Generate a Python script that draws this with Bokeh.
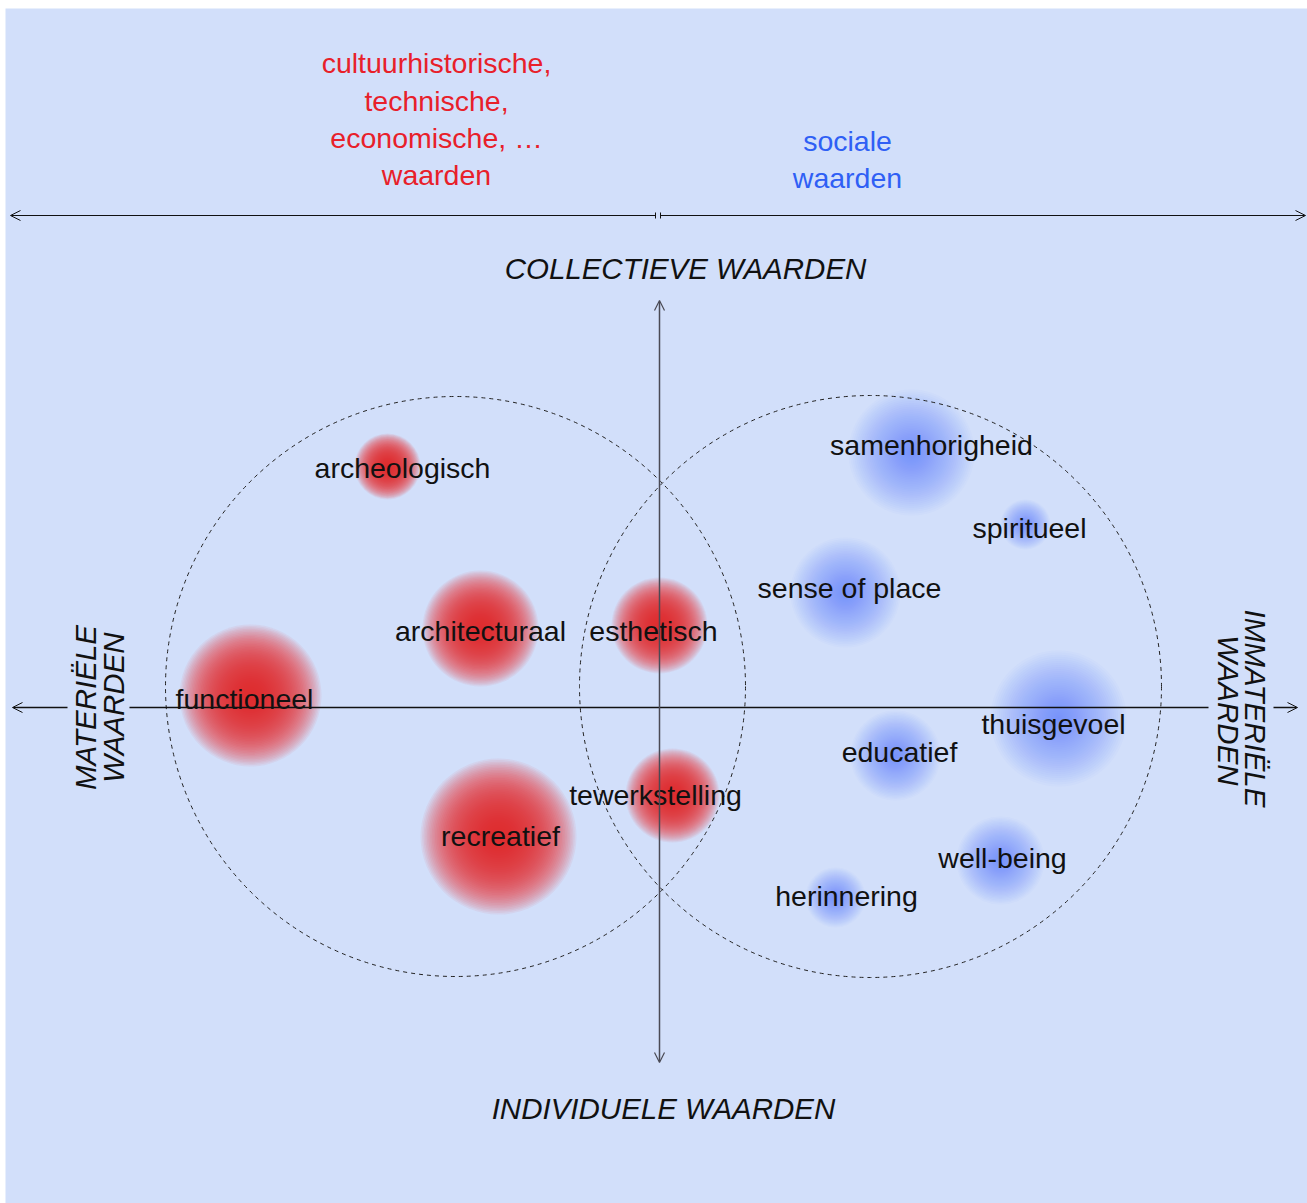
import math
from bokeh.plotting import figure
from bokeh.models import Range1d, Arrow, OpenHead, TeeHead
from bokeh.core.properties import value
from bokeh.embed import file_html
from bokeh.resources import INLINE

# ---- data (conceptual plane: x = material(-) / immaterial(+), y = individual(-) / collective(+)) ----
red_labels = ["archeologisch", "architecturaal", "esthetisch", "functioneel", "recreatief", "tewerkstelling"]
red_x = [-272, -179, 0, -409, -161, 13]
red_y = [241, 79, 82, 12, -129, -88]
red_r = [33, 58, 48, 71, 78, 47]
red_lx = [-257, -179, -6, -415, -159, -4]
red_ly = [240, 77, 77, 9, -128, -87]

blue_labels = ["samenhorigheid", "spiritueel", "sense of place", "thuisgevoel", "educatief", "well-being", "herinnering"]
blue_x = [252, 366, 186, 399, 236, 341, 176]
blue_y = [255, 183, 115, -11, -48, -153, -190]
blue_r = [63, 25, 55, 68, 45, 44, 30]
blue_lx = [272, 370, 190, 394, 240, 343, 187]
blue_ly = [263, 180, 120, -16, -44, -150, -188]

circle_x = [-204, 211]
circle_y = [21, 21]
circle_r = [290, 291]

red_header = ["cultuurhistorische,", "technische,", "economische, …", "waarden"]
red_header_x = -223
red_header_y = [645, 607, 570, 533]
blue_header = ["sociale", "waarden"]
blue_header_x = 188
blue_header_y = [567, 530]

BG = "#d2dffa"
RED = "#e8202a"
BLUE = "#2f5ff5"
BLOB_BLUE = "#5a8cf8"
FONT = "Liberation Sans"

p = figure(width=1307, height=1203, x_range=Range1d(-654, 648), y_range=Range1d(-496, 699),
           output_backend="svg", toolbar_location=None,
           min_border_left=5, min_border_top=8, min_border_right=0, min_border_bottom=0)
p.axis.visible = False
p.grid.visible = False
p.outline_line_color = None
p.background_fill_color = BG
p.border_fill_color = "white"


def blobs(xs, ys, rs, color, n, alpha, gamma):
    for i in range(1, n + 1):
        f = (i / n) ** gamma
        p.circle(x=xs, y=ys, radius=[r * f for r in rs], fill_color=color,
                 fill_alpha=alpha, line_color=None)


blobs(red_x, red_y, red_r, RED, 40, 0.058, 0.8)
blobs(blue_x, blue_y, blue_r, BLOB_BLUE, 40, 0.033, 1.25)

# dashed circles
p.circle(x=circle_x, y=circle_y, radius=circle_r, fill_color=None, line_color="#222222",
         line_dash="4 4", line_width=1)

# axes
AX = "#111111"
# top horizontal double arrow
p.add_layout(Arrow(start=TeeHead(size=6, line_color=AX, line_width=1),
                   end=OpenHead(size=10, line_color=AX, line_width=1),
                   x_start=-4, y_start=492, x_end=-649, y_end=492, line_color=AX, line_width=1))
p.add_layout(Arrow(start=TeeHead(size=6, line_color=AX, line_width=1),
                   end=OpenHead(size=10, line_color=AX, line_width=1),
                   x_start=1, y_start=492, x_end=646, y_end=492, line_color=AX, line_width=1))
# vertical axis
VC = "#4a4a55"
p.add_layout(Arrow(start=OpenHead(size=10, line_color=VC, line_width=1.2),
                   end=OpenHead(size=10, line_color=VC, line_width=1.2),
                   x_start=0, y_start=-355, x_end=0, y_end=407, line_color=VC, line_width=1.5))
# horizontal main axis (with gaps for the side labels)
p.add_layout(Arrow(end=OpenHead(size=10, line_color=AX, line_width=1),
                   x_start=-592, y_start=0, x_end=-647, y_end=0, line_color=AX, line_width=1.3))
p.segment(x0=[-530], y0=[0], x1=[549], y1=[0], line_color=AX, line_width=1.3)
p.add_layout(Arrow(end=OpenHead(size=10, line_color=AX, line_width=1),
                   x_start=614, y_start=0, x_end=638, y_end=0, line_color=AX, line_width=1.3))

# labels
LS = "28.5px"
p.text(x=red_lx, y=red_ly, text=red_labels, text_font=value(FONT), text_font_size=LS,
       text_color="#111111", text_align="center", text_baseline="middle")
p.text(x=blue_lx, y=blue_ly, text=blue_labels, text_font=value(FONT), text_font_size=LS,
       text_color="#111111", text_align="center", text_baseline="middle")

p.text(x=[red_header_x] * len(red_header), y=red_header_y, text=red_header, text_font=value(FONT),
       text_font_size=LS, text_color=RED, text_align="center", text_baseline="middle")
p.text(x=[blue_header_x] * len(blue_header), y=blue_header_y, text=blue_header, text_font=value(FONT),
       text_font_size=LS, text_color=BLUE, text_align="center", text_baseline="middle")

CS = "29.5px"
p.text(x=[26, 4], y=[439, -401], text=["COLLECTIEVE WAARDEN", "INDIVIDUELE WAARDEN"],
       text_font=value(FONT), text_font_size=CS, text_font_style="italic",
       text_color="#111111", text_align="center", text_baseline="middle")
p.text(x=[-574, -546], y=[0, 0], text=["MATERIËLE", "WAARDEN"], angle=math.pi / 2,
       text_font=value(FONT), text_font_size=CS, text_font_style="italic",
       text_color="#111111", text_align="center", text_baseline="middle")
p.text(x=[596, 569], y=[-1, -3], text=["IMMATERIËLE", "WAARDEN"], angle=-math.pi / 2,
       text_font=value(FONT), text_font_size=CS, text_font_style="italic",
       text_color="#111111", text_align="center", text_baseline="middle")

open("out.html", "w").write(file_html(p, INLINE))
